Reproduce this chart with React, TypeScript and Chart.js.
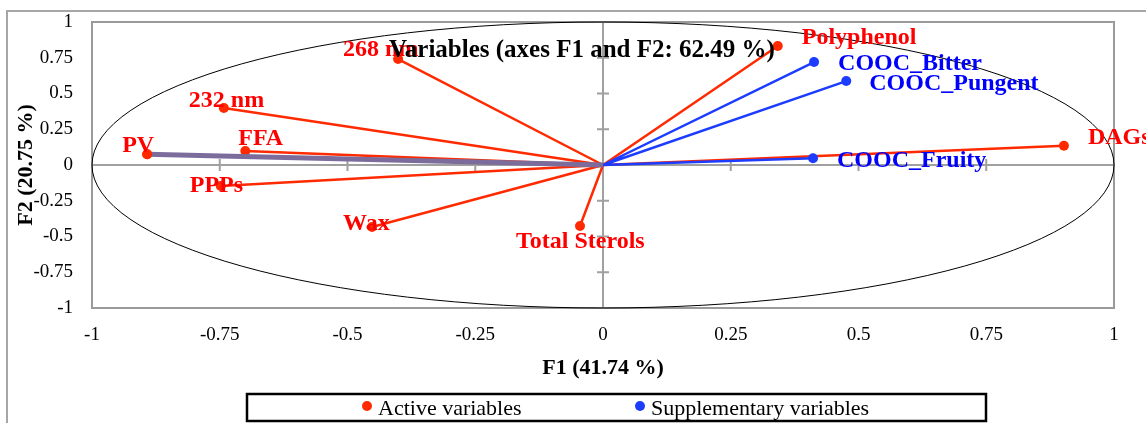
import React, { useEffect, useRef } from 'react';
import { Chart, registerables } from 'chart.js';

Chart.register(...registerables);

// ---------- data ----------
const chartTitle = 'Variables (axes F1 and F2: 62.49 %)';
const xTitle = 'F1 (41.74 %)';
const yTitle = 'F2 (20.75 %)';
const axisTicks = [-1, -0.75, -0.5, -0.25, 0, 0.25, 0.5, 0.75, 1];

const activeName = 'Active variables';
const activeLabels = ['268 nm', '232 nm', 'PV', 'FFA', 'PPPs', 'Wax', 'Total Sterols', 'Polyphenol', 'DAGs'];
const activeF1 = [-0.401, -0.742, -0.892, -0.7, -0.748, -0.452, -0.045, 0.342, 0.902];
const activeF2 = [0.741, 0.399, 0.075, 0.098, -0.147, -0.434, -0.427, 0.832, 0.135];

const suppName = 'Supplementary variables';
const suppLabels = ['COOC_Bitter', 'COOC_Pungent', 'COOC_Fruity'];
const suppF1 = [0.413, 0.476, 0.411];
const suppF2 = [0.72, 0.587, 0.047];

const highlighted = 'PV';

// ---------- layout / style (not data) ----------
const activeLabelOffsets = [[-55, -9], [-35, -7], [-25, -8], [-7, -12], [-31, 0], [-29, -3], [-64, 16], [24, -8], [24, -8]];
const suppLabelOffsets = [[24, 2], [23, 3], [24, 3]];

const RED = '#ff2a00';
const RED_TEXT = '#ff0000';
const BLUE = '#1c3cff';
const BLUE_TEXT = '#0000ff';
const PURPLE = '#7c6c9c';
const FONT = "'Liberation Serif', 'Times New Roman', serif";

const rays = (xs: number[], ys: number[]) =>
  xs.flatMap((x, i) => [{ x: 0, y: 0 }, { x, y: ys[i] }]);

const decorPlugin = {
  id: 'decor',
  beforeDraw(chart: any) {
    const { ctx, chartArea: a } = chart;
    ctx.save();
    ctx.strokeStyle = '#a6a6a6';
    ctx.lineWidth = 2;
    ctx.beginPath();
    ctx.moveTo(7, 460);
    ctx.lineTo(7, 11);
    ctx.lineTo(1200, 11);
    ctx.stroke();
    ctx.strokeStyle = '#9a9a9a';
    ctx.lineWidth = 2;
    ctx.strokeRect(a.left, a.top, a.right - a.left, a.bottom - a.top);
    ctx.restore();
  },
  beforeDatasetsDraw(chart: any) {
    const { ctx, scales } = chart;
    const x = scales.x;
    const y = scales.y;
    const cx = x.getPixelForValue(0);
    const cy = y.getPixelForValue(0);
    ctx.save();
    ctx.strokeStyle = '#a0a0a0';
    ctx.lineWidth = 2;
    ctx.beginPath();
    ctx.moveTo(x.left, cy);
    ctx.lineTo(x.right, cy);
    ctx.moveTo(cx, y.top);
    ctx.lineTo(cx, y.bottom);
    x.ticks.forEach((t: any) => {
      const px = x.getPixelForValue(t.value);
      ctx.moveTo(px, cy - 6);
      ctx.lineTo(px, cy + 6);
    });
    y.ticks.forEach((t: any) => {
      const py = y.getPixelForValue(t.value);
      ctx.moveTo(cx - 6, py);
      ctx.lineTo(cx + 6, py);
    });
    ctx.stroke();
    ctx.strokeStyle = '#000';
    ctx.lineWidth = 1;
    ctx.beginPath();
    ctx.ellipse(cx, cy, x.getPixelForValue(1) - cx, cy - y.getPixelForValue(1), 0, 0, Math.PI * 2);
    ctx.stroke();
    ctx.restore();
  },
  afterDatasetsDraw(chart: any) {
    const { ctx } = chart;
    ctx.save();
    ctx.font = `bold 24px ${FONT}`;
    ctx.textAlign = 'left';
    ctx.textBaseline = 'middle';
    chart.data.datasets.forEach((ds: any, di: number) => {
      if (!ds.pointLabels) return;
      const meta = chart.getDatasetMeta(di);
      ctx.fillStyle = ds.labelColor;
      ds.pointLabels.forEach((txt: string, i: number) => {
        const el = meta.data[i * 2 + 1];
        const [dx, dy] = ds.labelOffsets[i];
        ctx.fillText(txt, el.x + dx, el.y + dy);
      });
    });
    ctx.restore();
  },
  afterDraw(chart: any) {
    const { ctx, chartArea: a } = chart;
    ctx.save();
    // title
    ctx.font = `bold 25px ${FONT}`;
    ctx.fillStyle = '#000';
    ctx.textAlign = 'center';
    ctx.textBaseline = 'middle';
    ctx.fillText(chartTitle, (a.left + a.right) / 2 - 21, a.top + 29);
    // legend
    ctx.strokeStyle = '#000';
    ctx.lineWidth = 2.5;
    ctx.strokeRect(247, 394, 739, 27);
    ctx.font = `22px ${FONT}`;
    ctx.textAlign = 'left';
    ctx.textBaseline = 'alphabetic';
    const items = chart.data.datasets.filter((d: any) => d.label);
    const starts = [367, 640];
    items.forEach((d: any, i: number) => {
      const px = starts[i];
      ctx.fillStyle = d.pointBackgroundColor;
      ctx.beginPath();
      ctx.arc(px, 406, 5, 0, Math.PI * 2);
      ctx.fill();
      ctx.fillStyle = '#000';
      ctx.fillText(d.label, px + 11, 415);
    });
    ctx.restore();
  },
};

export default function App() {
  const ref = useRef<HTMLCanvasElement>(null);

  useEffect(() => {
    if (!ref.current) return;
    const hi = activeLabels.indexOf(highlighted);
    const chart = new Chart(ref.current, {
      type: 'scatter',
      data: {
        datasets: [
          {
            data: [{ x: 0, y: 0 }, { x: activeF1[hi], y: activeF2[hi] }],
            showLine: true,
            borderColor: PURPLE,
            borderWidth: 5,
            pointRadius: (c: any) => (c.dataIndex === 1 ? 5 : 0),
            pointBackgroundColor: RED,
            pointBorderWidth: 0,
            order: 0,
          } as any,
          {
            label: activeName,
            data: rays(activeF1, activeF2),
            showLine: true,
            borderColor: RED,
            borderWidth: 2.5,
            borderJoinStyle: 'round',
            pointRadius: (c: any) => (c.dataIndex % 2 === 1 ? 5 : 0),
            pointBackgroundColor: RED,
            pointBorderWidth: 0,
            order: 2,
            pointLabels: activeLabels,
            labelOffsets: activeLabelOffsets,
            labelColor: RED_TEXT,
          } as any,
          {
            label: suppName,
            data: rays(suppF1, suppF2),
            showLine: true,
            borderColor: BLUE,
            borderWidth: 2.5,
            borderJoinStyle: 'round',
            pointRadius: (c: any) => (c.dataIndex % 2 === 1 ? 5 : 0),
            pointBackgroundColor: BLUE,
            pointBorderWidth: 0,
            order: 1,
            pointLabels: suppLabels,
            labelOffsets: suppLabelOffsets,
            labelColor: BLUE_TEXT,
          } as any,
        ],
      },
      options: {
        animation: false,
        responsive: false,
        devicePixelRatio: 1,
        layout: { padding: { top: 22, right: 32, left: 0, bottom: 0 } },
        plugins: {
          legend: { display: false },
          tooltip: { enabled: false },
          title: { display: false },
        },
        scales: {
          x: {
            type: 'linear',
            min: -1,
            max: 1,
            afterBuildTicks: (s: any) => {
              s.ticks = axisTicks.map((v) => ({ value: v }));
            },
            afterFit: (s: any) => {
              s.height = 115;
              s.paddingLeft = 0;
              s.paddingRight = 0;
            },
            grid: { display: false, drawTicks: false },
            border: { display: false },
            ticks: {
              padding: 16,
              color: '#000',
              font: { family: FONT, size: 19 },
              maxRotation: 0,
              autoSkip: false,
              callback: (v: any) => String(v),
            },
            title: {
              display: true,
              text: xTitle,
              color: '#000',
              font: { family: FONT, size: 22, weight: 'bold' },
              padding: { top: 0, bottom: 41 },
            },
          },
          y: {
            type: 'linear',
            min: -1,
            max: 1,
            afterBuildTicks: (s: any) => {
              s.ticks = axisTicks.map((v) => ({ value: v }));
            },
            afterFit: (s: any) => {
              s.width = 92;
              s.paddingTop = 0;
              s.paddingBottom = 0;
            },
            grid: { display: false, drawTicks: false },
            border: { display: false },
            ticks: {
              padding: 19,
              color: '#000',
              font: { family: FONT, size: 19 },
              autoSkip: false,
              callback: (v: any) => String(v),
            },
            title: {
              display: true,
              text: yTitle,
              color: '#000',
              font: { family: FONT, size: 22, weight: 'bold' },
              padding: { top: 13, bottom: 0 },
            },
          },
        },
      } as any,
      plugins: [decorPlugin],
    });
    return () => chart.destroy();
  }, []);

  return (
    <div style={{ position: 'absolute', left: 0, top: 0, width: 1146, height: 423, background: '#fff' }}>
      <canvas ref={ref} width={1146} height={423} style={{ display: 'block' }} />
    </div>
  );
}
